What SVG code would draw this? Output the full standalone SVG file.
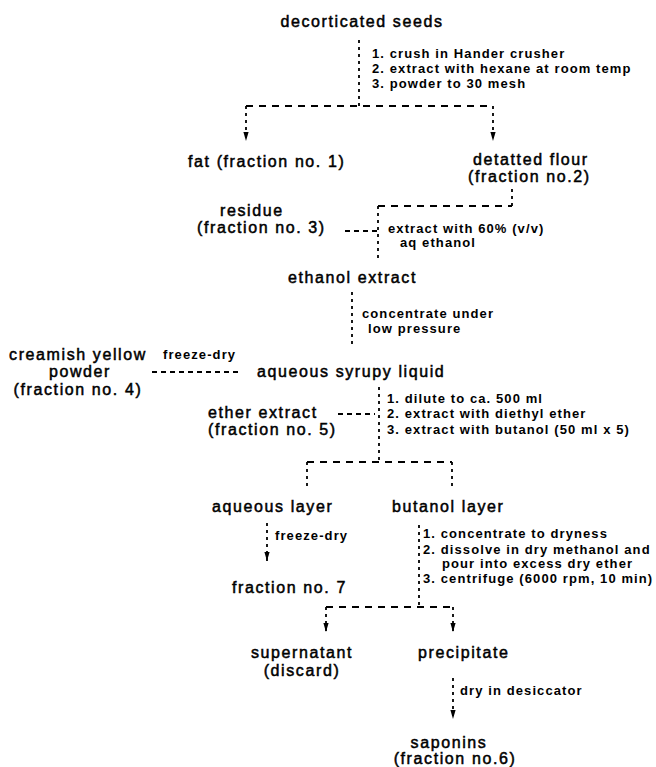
<svg xmlns="http://www.w3.org/2000/svg" width="656" height="767" viewBox="0 0 656 767">
<style>
.m{font-family:"Liberation Sans",Arial,sans-serif;font-size:16px;letter-spacing:1.6px;fill:#000;stroke:#000;stroke-width:0.5}
.s{font-family:"Liberation Sans",Arial,sans-serif;font-size:13px;font-weight:bold;letter-spacing:1.1px;fill:#000}
.c{text-anchor:middle}
.d{fill:none;stroke:#000;stroke-width:1.8;stroke-dasharray:3 4}
.h{fill:none;stroke:#000;stroke-width:1.8;stroke-dasharray:7 6}
.k{fill:none;stroke:#000;stroke-width:1.8;stroke-dasharray:5 4}
</style>
<defs>
<marker id="ah" markerUnits="userSpaceOnUse" markerWidth="10" markerHeight="8" viewBox="0 -4 10 8" refX="9" refY="0" orient="auto"><path d="M0,-2.6 L9,0 L0,2.6 z" fill="#000"/></marker>
</defs>
<rect width="656" height="767" fill="#fff"/>
<g id="connectors">
<path class="d" d="M359,40 V106"/>
<path class="h" d="M246,106 H493"/>
<path class="d" d="M246,106 V141" marker-end="url(#ah)"/>
<path class="d" d="M493,106 V141" marker-end="url(#ah)"/>
<path class="d" d="M512,189 V206"/>
<path class="h" d="M378,206 H512"/>
<path class="d" d="M378,206 V258"/>
<path class="k" d="M345,231 H377"/>
<path class="d" d="M352,292 V347"/>
<path class="k" d="M152,372 H240"/>
<path class="d" d="M379,387 V462"/>
<path class="h" d="M307,462 H452"/>
<path class="d" d="M307,462 V487"/>
<path class="d" d="M452,462 V487"/>
<path class="k" d="M338,414 H375"/>
<path class="d" d="M267,523 V561" marker-end="url(#ah)"/>
<path class="d" d="M419,525 V607"/>
<path class="h" d="M326,607 H453"/>
<path class="d" d="M326,607 V632" marker-end="url(#ah)"/>
<path class="d" d="M453,607 V632" marker-end="url(#ah)"/>
<path class="d" d="M453,678 V719" marker-end="url(#ah)"/>
</g>
<g id="seeds"><text class="m c" x="362" y="27">decorticated seeds</text></g>
<g id="step1" class="s"><text x="372" y="58">1. crush in Hander crusher</text><text x="372" y="73">2. extract with hexane at room temp</text><text x="372" y="88">3. powder to 30 mesh</text></g>
<g id="fat"><text class="m" x="188" y="167">fat (fraction no. 1)</text></g>
<g id="flour"><text class="m" x="473" y="165">detatted flour</text><text class="m" x="468" y="182">(fraction no.2)</text></g>
<g id="residue"><text class="m" x="220" y="216">residue</text><text class="m" x="197" y="233">(fraction no. 3)</text></g>
<g id="step2" class="s"><text x="388" y="233">extract with 60% (v/v)</text><text x="400" y="247">aq ethanol</text></g>
<g id="ethanol"><text class="m" x="288" y="283">ethanol extract</text></g>
<g id="step3" class="s"><text x="362" y="318">concentrate under</text><text x="368" y="333">low pressure</text></g>
<g id="powder"><text class="m c" x="78" y="360">creamish yellow</text><text class="m c" x="80" y="377">powder</text><text class="m c" x="78" y="395">(fraction no. 4)</text></g>
<g id="step4" class="s"><text x="163" y="359">freeze-dry</text></g>
<g id="syrupy"><text class="m" x="257" y="377">aqueous syrupy liquid</text></g>
<g id="step5" class="s"><text x="387" y="403">1. dilute to ca. 500 ml</text><text x="387" y="418">2. extract with diethyl ether</text><text x="387" y="434">3. extract with butanol (50 ml x 5)</text></g>
<g id="ether"><text class="m" x="208" y="418">ether extract</text><text class="m" x="208" y="435">(fraction no. 5)</text></g>
<g id="aqlayer"><text class="m" x="212" y="512">aqueous layer</text></g>
<g id="bulayer"><text class="m" x="392" y="512">butanol layer</text></g>
<g id="step6" class="s"><text x="275" y="540">freeze-dry</text></g>
<g id="frac7"><text class="m" x="232" y="593">fraction no. 7</text></g>
<g id="step7" class="s"><text x="423" y="538">1. concentrate to dryness</text><text x="423" y="554">2. dissolve in dry methanol and</text><text x="442" y="568">pour into excess dry ether</text><text x="423" y="583">3. centrifuge (6000 rpm, 10 min)</text></g>
<g id="supernatant"><text class="m c" x="302" y="658">supernatant</text><text class="m c" x="302" y="676">(discard)</text></g>
<g id="precipitate"><text class="m" x="418" y="658">precipitate</text></g>
<g id="step8" class="s"><text x="460" y="695">dry in desiccator</text></g>
<g id="saponins"><text class="m c" x="449" y="748">saponins</text><text class="m c" x="455" y="764">(fraction no.6)</text></g>
</svg>
